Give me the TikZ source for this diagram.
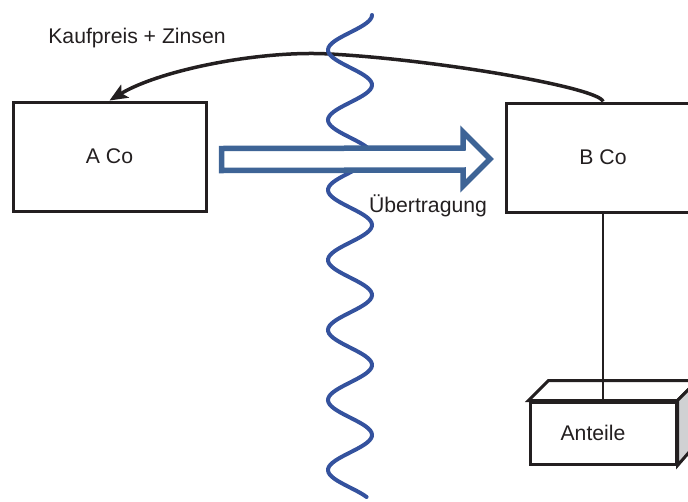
\documentclass[tikz,border=0pt]{standalone}
\usepackage{fontspec}
\setmainfont{Liberation Sans}
\usetikzlibrary{arrows.meta,calc}
\definecolor{waveblue}{RGB}{52,82,158}
\definecolor{flowblue}{RGB}{62,100,150}
\definecolor{sidegray}{RGB}{208,209,211}
\definecolor{ink}{RGB}{35,31,32}
\tikzset{
  cobox/.style    ={draw=ink,line width=3pt,fill=white,text=ink,
                    minimum width=193pt,minimum height=109pt},
  sharebox/.style ={draw=ink,line width=3pt,fill=white,text=ink,
                    minimum width=146pt,minimum height=62pt},
  pay/.style      ={ink,line width=3.5pt,-{Stealth[length=18pt,width=15pt,inset=4pt]}},
  transfer/.style ={draw=flowblue,line width=5.5pt,fill=white,line join=miter},
  border/.style   ={waveblue,line width=4pt,line cap=round},
  link/.style     ={ink,line width=2.2pt},
}

\begin{document}
\begin{tikzpicture}[x=1pt,y=-1pt,font=\fontsize{21.2}{25}\selectfont,text=ink]
\useasboundingbox (0,0) rectangle (688,501);
% companies
\node[cobox] (A) at (109.5,156.5) {A Co};
\node[cobox] (B) at (603,157.5) {B Co};
% shares held by B Co
\node[sharebox,label={[xshift=-10pt,text=ink]center:Anteile}] (anteile) at (603,433) {};
\fill[white,draw=ink,line width=3pt,line join=miter] (anteile.north west) -- ++(20,-20)
  -- ($(anteile.north east)+(20,-20)$) -- (anteile.north east) -- cycle;
\fill[sidegray,draw=ink,line width=3pt,line join=miter] (anteile.north east) -- ++(20,-20)
  -- ++(0,62) -- (anteile.south east) -- cycle;
\draw[link] (B.south) -- (anteile.north);
% payment back to A Co
\draw[pay] (B.north) .. controls (600,88) and (440,60) .. (330,54)
  .. controls (260,50) and (160,70) .. (A.north);
\node (kaufpreis) at (137,38) {Kaufpreis + Zinsen};
% border line
\draw[border] plot[domain=15:497,samples=240,smooth] ({350+22*cos((\x-15)/35*180)},\x);
% transfer arrow
\coordinate (t0) at ($(A.east)+(14,3)$);
\coordinate (t1) at ($(B.west)+(-15,1.5)$);
\draw[transfer] ($(t0)+(0,-11)$) -- ($(t1)+(-27,-11)$) -- ($(t1)+(-27,-27)$) -- (t1)
  -- ($(t1)+(-27,27)$) -- ($(t1)+(-27,11)$) -- ($(t0)+(0,11)$) -- cycle;
\node (uebertragung) at (428,206) {Übertragung};
\end{tikzpicture}
\end{document}
